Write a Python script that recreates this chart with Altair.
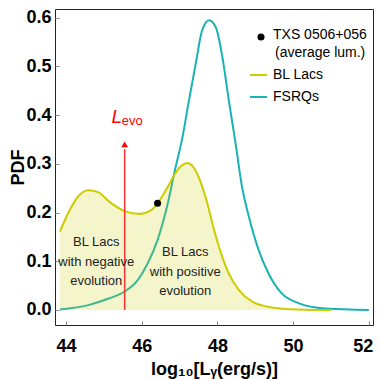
import altair as alt
import pandas as pd

# ---- data ----
bl_x = [43.84, 44.06, 44.32, 44.59, 44.85, 45.15, 45.55, 45.94, 46.25, 46.42,
        46.69, 46.86, 47.05, 47.21, 47.35, 47.52, 47.73, 47.91, 48.04, 48.30,
        48.57, 48.92, 49.44, 50.14, 51.0]
bl_y = [0.161, 0.199, 0.233, 0.246, 0.242, 0.222, 0.203, 0.197, 0.205, 0.219,
        0.253, 0.277, 0.296, 0.302, 0.295, 0.270, 0.220, 0.165, 0.130, 0.075,
        0.041, 0.017, 0.005, 0.001, 0.0]

fsrq_x = [43.84, 44.59, 45.11, 45.55, 45.90, 46.16, 46.42, 46.69, 46.86, 47.08,
          47.25, 47.43, 47.60, 47.78, 47.96, 48.13, 48.30, 48.48, 48.65, 48.83,
          49.09, 49.35, 49.70, 50.14, 50.84, 52.0]
fsrq_y = [0.001, 0.010, 0.023, 0.038, 0.062, 0.096, 0.144, 0.219, 0.281, 0.356,
          0.431, 0.507, 0.575, 0.595, 0.580, 0.520, 0.431, 0.342, 0.253, 0.192,
          0.123, 0.075, 0.034, 0.014, 0.003, 0.0]

txs_x = [46.42]
txs_y = [0.219]

l_evo = 45.55
arrow_top = 0.34

neg_lines = ["BL Lacs", "with negative", "evolution"]
neg_x = [44.80, 44.80, 44.80]
neg_y = [0.139, 0.099, 0.060]
pos_lines = ["BL Lacs", "with positive", "evolution"]
pos_x = [47.15, 47.15, 47.15]
pos_y = [0.120, 0.079, 0.039]

x_ticks = [44, 46, 48, 50, 52]
y_ticks = [0.0, 0.1, 0.2, 0.3, 0.4, 0.5, 0.6]

BL_COL = "#cccc00"
FS_COL = "#1ab3b3"
FONT = "Liberation Sans"

bl = pd.DataFrame({"x": bl_x, "y": bl_y})
fs = pd.DataFrame({"x": fsrq_x, "y": fsrq_y})
txs = pd.DataFrame({"x": txs_x, "y": txs_y})
neg = pd.DataFrame({"t": neg_lines, "x": neg_x, "y": neg_y})
pos = pd.DataFrame({"t": pos_lines, "x": pos_x, "y": pos_y})
one = pd.DataFrame({"a": [0]})

xs = alt.Scale(domain=[43.71, 52.11], nice=False, zero=False)
ys = alt.Scale(domain=[-0.0308, 0.618], nice=False, zero=False)

xax = alt.Axis(values=x_ticks, format="d", title="log₁₀[Lᵧ(erg/s)]", grid=False,
               domain=False, tickSize=4, offset=-4, tickColor="#888",
               labelPadding=12, labelFont=FONT, labelFontSize=18,
               labelFontWeight="bold", labelColor="black",
               labelFlush=6, labelFlushOffset=4,
               titleFont=FONT, titleFontSize=18, titleFontWeight="bold",
               titleColor="black", titlePadding=5)
yax = alt.Axis(values=y_ticks, format=".1f", title="PDF", grid=False,
               domain=False, tickSize=4, offset=-4, tickColor="#888",
               labelPadding=4, labelFont=FONT, labelFontSize=18,
               labelFontWeight="bold", labelColor="black",
               titleFont=FONT, titleFontSize=18, titleFontWeight="bold",
               titleColor="black", titlePadding=2, titleBaseline="alphabetic")

X = alt.X("x:Q", scale=xs, axis=xax)
Y = alt.Y("y:Q", scale=ys, axis=yax)

fs_line = alt.Chart(fs).mark_line(color=FS_COL, strokeWidth=2,
                                  interpolate="monotone").encode(x=X, y=Y)
bl_area = alt.Chart(bl).mark_area(color=BL_COL, opacity=0.2,
                                  interpolate="monotone").encode(
    x=X, y=Y, y2=alt.datum(0))
bl_line = alt.Chart(bl).mark_line(color=BL_COL, strokeWidth=2,
                                  interpolate="monotone").encode(x=X, y=Y)

red_rule = alt.Chart(one).mark_rule(color="#ff3030", strokeWidth=1.5).encode(
    x=alt.datum(l_evo), y=alt.datum(0), y2=alt.datum(arrow_top - 0.01))
red_head = alt.Chart(one).mark_point(shape="triangle-up", filled=True,
                                     color="red", size=45, opacity=1).encode(
    x=alt.datum(l_evo), y=alt.datum(arrow_top))
l_text = alt.Chart(one).mark_text(text="L", font=FONT, fontSize=19,
                                  fontStyle="italic", color="red",
                                  align="center", baseline="middle", dx=-8).encode(
    x=alt.datum(l_evo), y=alt.datum(0.396))
evo_text = alt.Chart(one).mark_text(text="evo", font=FONT, fontSize=13,
                                    color="red", align="left",
                                    baseline="middle", dx=-3, dy=4).encode(
    x=alt.datum(l_evo), y=alt.datum(0.396))

txs_pt = alt.Chart(txs).mark_point(filled=True, color="black", size=50,
                                   opacity=1).encode(x=X, y=Y)

neg_txt = alt.Chart(neg).mark_text(font=FONT, fontSize=13, color="#222",
                                   align="center", baseline="middle").encode(
    x=X, y=Y, text="t:N")
pos_txt = alt.Chart(pos).mark_text(font=FONT, fontSize=13, color="#222",
                                   align="center", baseline="middle").encode(
    x=X, y=Y, text="t:N")

# ---- manual legend ----
leg_dot = alt.Chart(one).mark_point(filled=True, color="black", size=50,
                                    opacity=1).encode(
    x=alt.value(206), y=alt.value(28))
leg_t1 = alt.Chart(one).mark_text(text="TXS 0506+056", font=FONT, fontSize=14,
                                  color="black", align="left",
                                  baseline="middle").encode(
    x=alt.value(218), y=alt.value(26))
leg_t2 = alt.Chart(one).mark_text(text="(average lum.)", font=FONT,
                                  fontSize=14, color="black", align="left",
                                  baseline="middle").encode(
    x=alt.value(220), y=alt.value(43.5))
leg_bl = alt.Chart(one).mark_rule(color=BL_COL, strokeWidth=2).encode(
    x=alt.value(195), x2=alt.value(212), y=alt.value(66))
leg_bl_t = alt.Chart(one).mark_text(text="BL Lacs", font=FONT, fontSize=14,
                                    color="black", align="left",
                                    baseline="middle").encode(
    x=alt.value(218), y=alt.value(66))
leg_fs = alt.Chart(one).mark_rule(color=FS_COL, strokeWidth=2).encode(
    x=alt.value(195), x2=alt.value(212), y=alt.value(88))
leg_fs_t = alt.Chart(one).mark_text(text="FSRQs", font=FONT, fontSize=14,
                                    color="black", align="left",
                                    baseline="middle").encode(
    x=alt.value(218), y=alt.value(88))

chart = alt.layer(
    fs_line, bl_area, bl_line, red_rule, red_head, l_text, evo_text,
    txs_pt, neg_txt, pos_txt,
    leg_dot, leg_t1, leg_t2, leg_bl, leg_bl_t, leg_fs, leg_fs_t
).properties(
    width=318, height=316,
    autosize=alt.AutoSizeParams(type="none"),
    padding={"left": 47, "top": 1, "right": 1, "bottom": 54},
).configure_view(stroke="#222", strokeWidth=1)

chart.save("out.html", embed_options={"renderer": "svg", "actions": False})
